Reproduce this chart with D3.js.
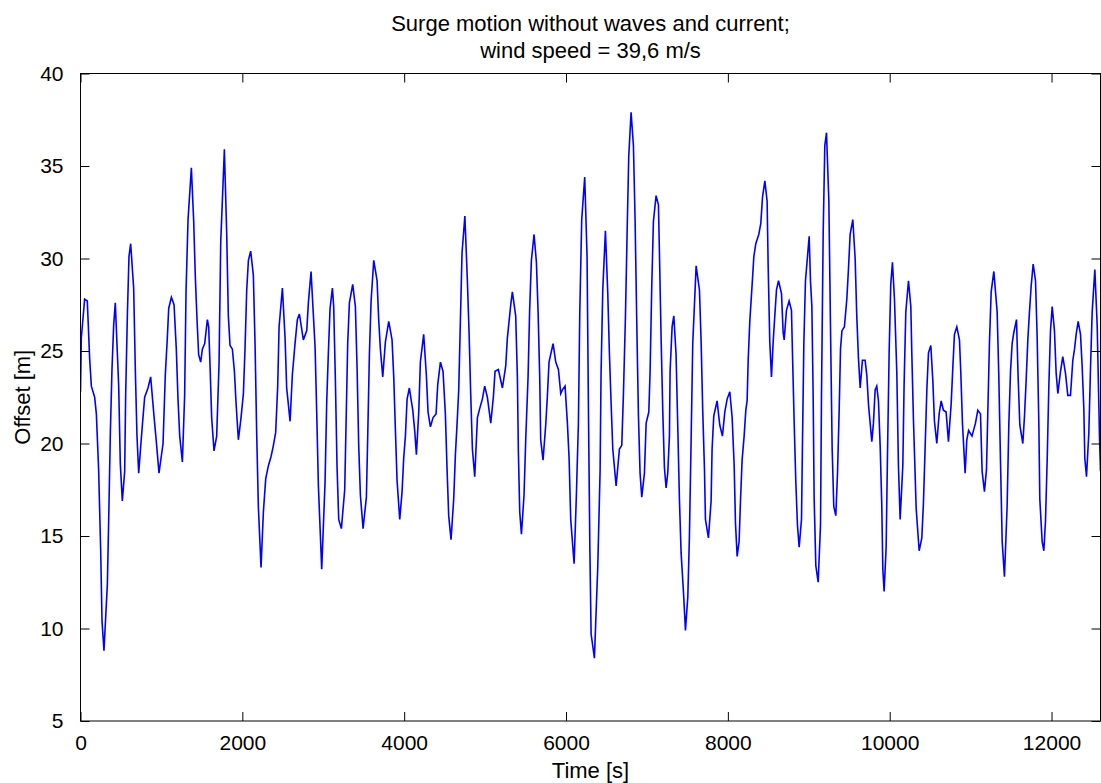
<!DOCTYPE html>
<html>
<head>
<meta charset="utf-8">
<script src="https://cdn.jsdelivr.net/npm/d3@7"></script>
<style>
  html, body { margin: 0; padding: 0; background: #fff; }
  svg { display: block; }
  text { font-family: "Liberation Sans", Arial, sans-serif; fill: #000; }
</style>
</head>
<body>
<svg id="chart" width="1101" height="783"></svg>
<script>
// Surge offset time series: time [s] and offset [m]
const timeS = [
  0, 10, 51, 84, 113, 134, 175, 196, 224, 249, 266, 290, 332, 348, 369, 389, 410, 430, 472, 492,
  517, 546, 558, 579, 599, 620, 657, 678, 698, 719, 752, 772, 793, 834, 867, 908, 937, 970, 1020, 1048,
  1073, 1090, 1123, 1156, 1184, 1205, 1226, 1259, 1287, 1304, 1329, 1370, 1399, 1419, 1440, 1460, 1485, 1506, 1535, 1555,
  1568, 1584, 1601, 1621, 1650, 1683, 1712, 1733, 1778, 1807, 1827, 1848, 1877, 1902, 1922, 1951, 1984, 2013, 2033, 2054,
  2075, 2103, 2136, 2157, 2178, 2198, 2231, 2260, 2289, 2322, 2355, 2384, 2412, 2437, 2454, 2495, 2528, 2548, 2590, 2618,
  2651, 2680, 2705, 2754, 2796, 2816, 2849, 2899, 2919, 2940, 2981, 3022, 3043, 3063, 3084, 3113, 3129, 3150, 3170, 3191,
  3224, 3265, 3282, 3302, 3323, 3364, 3397, 3418, 3438, 3459, 3492, 3533, 3549, 3570, 3591, 3624, 3665, 3685, 3706, 3735,
  3768, 3809, 3850, 3871, 3891, 3912, 3945, 3974, 3994, 4015, 4036, 4064, 4106, 4130, 4151, 4180, 4200, 4241, 4274, 4295,
  4324, 4357, 4394, 4415, 4448, 4480, 4509, 4530, 4550, 4579, 4612, 4633, 4654, 4674, 4695, 4715, 4750, 4781, 4802, 4822,
  4843, 4872, 4905, 4934, 4966, 4995, 5028, 5070, 5102, 5123, 5164, 5214, 5255, 5275, 5296, 5317, 5337, 5378, 5399, 5411,
  5428, 5449, 5481, 5502, 5531, 5551, 5572, 5605, 5634, 5655, 5675, 5687, 5716, 5749, 5770, 5790, 5840, 5873, 5906, 5935,
  5955, 5988, 6017, 6038, 6058, 6100, 6128, 6153, 6170, 6194, 6231, 6260, 6278, 6295, 6310, 6351, 6392, 6421, 6433, 6454,
  6487, 6516, 6536, 6557, 6578, 6619, 6660, 6689, 6709, 6734, 6755, 6775, 6804, 6833, 6854, 6874, 6895, 6915, 6936, 6969,
  6990, 7023, 7039, 7060, 7080, 7113, 7142, 7154, 7175, 7196, 7216, 7237, 7257, 7278, 7286, 7311, 7332, 7360, 7381, 7402,
  7422, 7451, 7476, 7505, 7525, 7546, 7566, 7608, 7649, 7669, 7690, 7711, 7723, 7760, 7793, 7805, 7826, 7867, 7900, 7933,
  7962, 7991, 8024, 8053, 8078, 8094, 8115, 8139, 8156, 8176, 8201, 8222, 8238, 8251, 8271, 8300, 8321, 8345, 8382, 8407,
  8428, 8457, 8485, 8498, 8518, 8539, 8560, 8580, 8601, 8626, 8663, 8683, 8696, 8724, 8757, 8786, 8799, 8819, 8840, 8860,
  8881, 8910, 8922, 8939, 8959, 9005, 9021, 9038, 9054, 9066, 9087, 9116, 9145, 9157, 9178, 9198, 9219, 9248, 9268, 9289,
  9309, 9334, 9355, 9375, 9392, 9410, 9440, 9470, 9490, 9511, 9544, 9573, 9593, 9614, 9635, 9663, 9696, 9717, 9738, 9779,
  9799, 9820, 9840, 9861, 9882, 9902, 9915, 9931, 9956, 9972, 9993, 10013, 10034, 10059, 10088, 10108, 10129, 10162, 10178, 10199,
  10232, 10261, 10273, 10294, 10327, 10364, 10397, 10417, 10438, 10459, 10479, 10508, 10533, 10553, 10582, 10611, 10636, 10664, 10697, 10726,
  10759, 10780, 10800, 10829, 10862, 10879, 10899, 10932, 10953, 10975, 11017, 11060, 11089, 11122, 11142, 11171, 11196, 11212, 11233, 11254,
  11287, 11328, 11348, 11369, 11390, 11418, 11451, 11472, 11493, 11513, 11534, 11567, 11587, 11608, 11645, 11666, 11686, 11707, 11727, 11748,
  11773, 11802, 11822, 11843, 11855, 11884, 11905, 11925, 11946, 11966, 11987, 12008, 12036, 12057, 12078, 12111, 12139, 12172, 12201, 12234,
  12263, 12284, 12304, 12329, 12358, 12378, 12399, 12411, 12432, 12461, 12481, 12502, 12535, 12564, 12593, 12605
];
const offsetM = [
  22.8, 25.7, 27.8, 27.7, 24.6, 23.1, 22.5, 21.6, 18.6, 14.3, 10.4, 8.8, 12.4, 15.8, 20.6, 24.0, 26.4, 27.6, 23.1, 18.9,
  16.9, 18.5, 22.6, 26.9, 30.1, 30.8, 28.4, 23.9, 20.4, 18.4, 20.3, 21.4, 22.5, 23.0, 23.6, 21.5, 20.1, 18.4, 20.0, 23.7,
  25.7, 27.3, 27.9, 27.5, 25.1, 22.4, 20.4, 19.0, 22.6, 28.2, 32.1, 34.9, 32.0, 29.0, 26.7, 24.8, 24.4, 25.1, 25.4, 26.2,
  26.7, 26.3, 24.2, 21.4, 19.6, 20.4, 24.3, 30.9, 35.9, 31.3, 26.9, 25.3, 25.1, 23.9, 22.2, 20.2, 21.4, 22.7, 25.1, 28.3,
  29.9, 30.4, 29.1, 25.4, 20.4, 16.6, 13.3, 16.3, 18.1, 18.8, 19.3, 19.9, 20.6, 23.1, 26.3, 28.4, 25.7, 23.0, 21.2, 23.7,
  25.4, 26.7, 27.0, 25.6, 26.1, 27.6, 29.3, 25.2, 21.7, 17.7, 13.2, 17.9, 22.3, 24.9, 27.3, 28.4, 27.4, 23.4, 18.8, 15.9,
  15.4, 17.5, 21.1, 25.4, 27.6, 28.6, 27.4, 24.1, 19.9, 17.2, 15.4, 17.1, 20.3, 24.8, 27.7, 29.9, 28.8, 26.7, 25.1, 23.6,
  25.5, 26.6, 25.6, 23.6, 20.8, 18.0, 15.9, 17.4, 19.2, 20.4, 22.4, 23.0, 21.8, 20.7, 19.4, 21.7, 24.4, 25.9, 23.7, 21.7,
  20.9, 21.4, 21.6, 23.2, 24.4, 23.9, 21.6, 18.6, 16.1, 14.8, 17.0, 19.4, 21.1, 22.9, 26.7, 30.3, 32.3, 28.8, 26.0, 22.7,
  19.7, 18.2, 21.4, 21.9, 22.4, 23.1, 22.5, 21.1, 22.5, 23.9, 24.0, 23.0, 24.2, 25.7, 26.6, 27.5, 28.2, 26.9, 23.6, 19.6,
  16.3, 15.1, 17.2, 20.2, 23.6, 27.3, 29.9, 31.3, 29.8, 27.1, 23.6, 20.2, 19.1, 21.0, 22.6, 24.4, 25.4, 24.4, 24.0, 22.7,
  22.9, 23.1, 21.1, 19.2, 15.9, 13.5, 17.2, 21.1, 27.1, 32.1, 34.4, 30.1, 21.4, 14.2, 9.7, 8.4, 13.3, 18.5, 23.8, 28.3,
  31.5, 28.1, 24.9, 22.2, 19.7, 17.7, 19.7, 19.9, 22.6, 26.8, 31.4, 35.5, 37.9, 36.1, 32.0, 26.6, 21.5, 18.4, 17.1, 18.4,
  21.1, 21.7, 23.9, 28.6, 32.0, 33.4, 32.9, 30.4, 25.7, 21.7, 18.7, 17.6, 18.4, 20.4, 23.9, 26.3, 26.9, 24.8, 20.9, 16.9,
  14.1, 12.0, 9.9, 11.7, 15.0, 20.2, 25.4, 29.6, 28.3, 25.6, 21.7, 18.6, 15.9, 14.9, 16.9, 19.7, 21.5, 22.3, 21.0, 20.4,
  21.7, 22.4, 22.8, 21.4, 18.8, 15.7, 13.9, 14.7, 16.9, 19.1, 20.4, 21.8, 22.3, 24.5, 26.6, 28.6, 30.1, 30.8, 31.3, 31.9,
  33.3, 34.2, 33.1, 29.6, 25.5, 23.6, 25.5, 26.9, 28.3, 28.8, 28.1, 26.0, 25.6, 27.2, 27.7, 27.2, 24.8, 21.2, 17.9, 15.6,
  14.4, 15.9, 20.0, 25.4, 28.8, 31.2, 28.8, 27.4, 22.6, 17.1, 13.4, 12.5, 15.6, 22.6, 31.4, 36.1, 36.8, 33.1, 26.4, 19.7,
  16.6, 16.1, 18.4, 21.7, 25.1, 26.1, 26.3, 27.8, 29.4, 31.3, 32.1, 30.0, 26.9, 24.6, 23.0, 24.5, 24.5, 23.7, 22.1, 20.1,
  21.1, 22.9, 23.1, 22.3, 19.9, 16.7, 13.2, 12.0, 14.4, 19.2, 24.9, 28.6, 29.8, 27.8, 23.8, 18.8, 15.9, 18.8, 23.2, 27.1,
  28.8, 27.4, 24.9, 21.2, 16.5, 14.2, 14.9, 16.8, 19.8, 22.9, 24.9, 25.3, 23.4, 21.2, 20.0, 21.6, 22.3, 21.8, 21.7, 20.1,
  22.1, 24.1, 25.9, 26.3, 25.6, 23.8, 21.1, 18.4, 20.2, 20.7, 20.4, 21.1, 21.8, 21.6, 18.5, 17.4, 18.6, 21.6, 25.5, 28.2,
  29.3, 27.1, 23.7, 19.1, 14.7, 12.8, 16.6, 21.0, 23.9, 25.4, 26.0, 26.7, 23.6, 21.0, 20.0, 21.5, 23.4, 25.6, 27.1, 28.5,
  29.7, 28.8, 25.8, 21.1, 17.0, 14.7, 14.2, 15.8, 19.1, 23.0, 26.1, 27.4, 26.1, 23.8, 22.7, 23.9, 24.7, 23.8, 22.6, 22.6,
  24.5, 25.1, 25.9, 26.6, 25.9, 24.2, 21.9, 19.2, 18.2, 20.6, 24.0, 27.1, 29.4, 26.4, 20.3, 18.5
];

const xTicks = [0, 2000, 4000, 6000, 8000, 10000, 12000];
const yTicks = [5, 10, 15, 20, 25, 30, 35, 40];
const xDomain = [0, 12605];
const yDomain = [5, 40];

const titleLines = ["Surge motion without waves and current;", "wind speed = 39,6 m/s"];
const xLabel = "Time [s]";
const yLabel = "Offset [m]";

const svg = d3.select("#chart");
const W = 1101, H = 783;
const plotL = 80.5, plotR = 1100.5, plotT = 73.5, plotB = 721;
const tickLen = 9;

svg.append("rect").attr("width", W).attr("height", H).attr("fill", "#fff");

const x = d3.scaleLinear().domain(xDomain).range([plotL, plotR]);
const y = d3.scaleLinear().domain(yDomain).range([plotB, plotT]);

// clip the trace to the axes box
svg.append("clipPath").attr("id", "plotClip")
  .append("rect").attr("x", plotL).attr("y", plotT)
  .attr("width", plotR - plotL).attr("height", plotB - plotT);

const series = timeS.map((t, i) => [t, offsetM[i]]);
const line = d3.line().x(d => x(d[0])).y(d => y(d[1])).curve(d3.curveLinear);

svg.append("path")
  .datum(series)
  .attr("clip-path", "url(#plotClip)")
  .attr("fill", "none")
  .attr("stroke", "#0000ff")
  .attr("stroke-width", 1.6)
  .attr("stroke-linejoin", "miter")
  .attr("d", line);

// axes on all four sides with inward ticks
const axisBottom = d3.axisBottom(x).tickValues(xTicks).tickSizeInner(-tickLen).tickSizeOuter(0).tickPadding(14).tickFormat(d3.format("d"));
const axisTop = d3.axisTop(x).tickValues(xTicks).tickSizeInner(-tickLen).tickSizeOuter(0).tickFormat("");
const axisLeft = d3.axisLeft(y).tickValues(yTicks).tickSizeInner(-tickLen).tickSizeOuter(0).tickPadding(17).tickFormat(d3.format("d"));
const axisRight = d3.axisRight(y).tickValues(yTicks).tickSizeInner(-tickLen).tickSizeOuter(0).tickFormat("");

function styleAxis(g) {
  g.select(".domain").remove();
  g.selectAll(".tick line").attr("stroke", "#000").attr("stroke-width", 1);
  g.selectAll(".tick text").attr("fill", "#000")
    .style("font-family", '"Liberation Sans", Arial, sans-serif')
    .style("font-size", "21px");
}

svg.append("g").attr("transform", `translate(0,${plotB})`).call(axisBottom).call(styleAxis);
svg.append("g").attr("transform", `translate(0,${plotT})`).call(axisTop).call(styleAxis);
svg.append("g").attr("transform", `translate(${plotL},0)`).call(axisLeft).call(styleAxis);
svg.append("g").attr("transform", `translate(${plotR},0)`).call(axisRight).call(styleAxis);

// axes box
svg.append("rect")
  .attr("x", plotL).attr("y", plotT)
  .attr("width", plotR - plotL).attr("height", plotB - plotT)
  .attr("fill", "none").attr("stroke", "#000").attr("stroke-width", 1);

// title
const cx = (plotL + plotR) / 2;
svg.append("text").attr("x", cx).attr("y", 31).attr("text-anchor", "middle")
  .style("font-size", "22px").text(titleLines[0]);
svg.append("text").attr("x", cx).attr("y", 58).attr("text-anchor", "middle")
  .style("font-size", "22px").text(titleLines[1]);

// axis labels
svg.append("text").attr("x", cx).attr("y", 778).attr("text-anchor", "middle")
  .style("font-size", "22px").text(xLabel);
svg.append("text")
  .attr("transform", `translate(30,${(plotT + plotB) / 2}) rotate(-90)`)
  .attr("text-anchor", "middle")
  .style("font-size", "22px").text(yLabel);
</script>
</body>
</html>
